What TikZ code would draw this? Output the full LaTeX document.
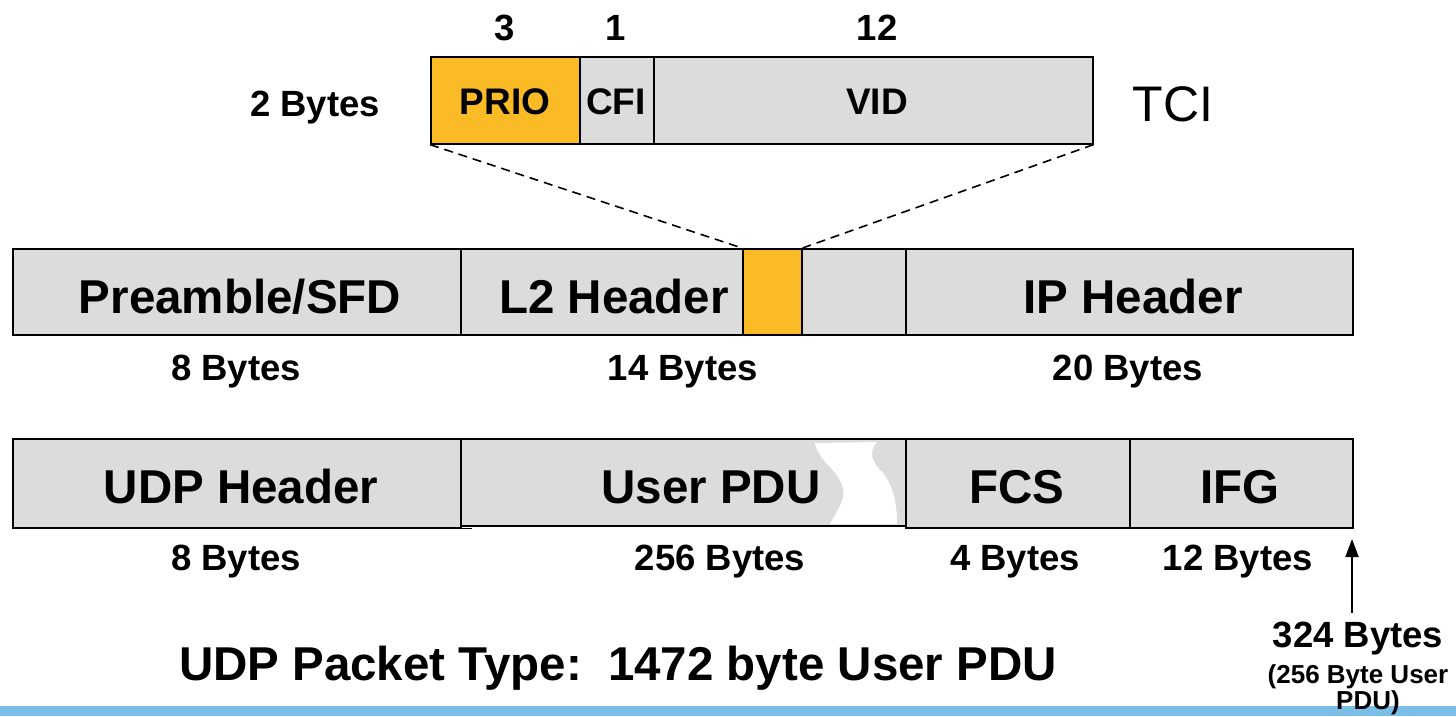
\documentclass[tikz,border=0pt]{standalone}
\usepackage{fontspec}
\setmainfont{Liberation Sans}
\usetikzlibrary{arrows.meta}
\definecolor{fieldgray}{RGB}{220,220,220}
\definecolor{prioorange}{RGB}{251,187,38}
\definecolor{barblue}{RGB}{123,191,232}

\begin{document}
\begin{tikzpicture}[x=1pt,y=-1pt,
  field/.style={draw=black, line width=1.6pt, fill=fieldgray, inner sep=0pt, anchor=north west},
  hi/.style={field, fill=prioorange},
  big/.style={font=\fontsize{47.5}{52}\selectfont\bfseries, text height=34pt, text depth=0pt, inner sep=0pt},
  mid/.style={font=\fontsize{36.5}{40}\selectfont\bfseries, text height=26pt, text depth=0pt, inner sep=0pt},
  tag/.style={font=\fontsize{37}{40}\selectfont\bfseries, text height=26.5pt, text depth=0pt, inner sep=0pt},
  sml/.style={font=\fontsize{26}{30}\selectfont\bfseries, text height=18.6pt, text depth=0pt, inner sep=0pt},
  dashline/.style={dashed, dash pattern=on 9pt off 6pt, line width=1.6pt},
  uparrow/.style={-{Triangle[width=13pt,length=18pt]}, line width=2pt}]

\useasboundingbox (0,0) rectangle (1456,716);

% bottom colour bar
\fill[barblue] (0,706) rectangle (1456,716);

% TCI field
\node[hi,    minimum width=149pt, minimum height=87pt] (prio) at (430,56) {};
\node[field, minimum width=74pt,  minimum height=87pt] (cfi)  at (579,56) {};
\node[field, minimum width=439pt, minimum height=87pt] (vid)  at (653,56) {};
\node[tag] (tprio) at (505,101) {PRIO};
\node[tag] (tcfi)  at (616,101) {CFI};
\node[tag] (tvid)  at (877,101) {VID};
\node[mid] (b3)  at (505,27) {3};
\node[mid] (b1)  at (616,27) {1};
\node[mid] (b12) at (877,27) {12};
\node[mid] (twob) at (315,103) {2 Bytes};
\node[font=\fontsize{50}{54}\selectfont, text height=36pt, text depth=0pt, inner sep=0pt] (tci) at (1173,103) {TCI};

% first frame row
\node[field, minimum width=448pt, minimum height=86pt] (pre)  at (12,248)  {};
\node[field, minimum width=282pt, minimum height=86pt] (l2)   at (460,248) {};
\node[hi,    minimum width=59pt,  minimum height=86pt] (vlan) at (742,248) {};
\node[field, minimum width=104pt, minimum height=86pt] (l2b)  at (801,248) {};
\node[field, minimum width=447pt, minimum height=86pt] (ip)   at (905,248) {};
\node[big] (tpre) at (240,296)  {Preamble/SFD};
\node[big] (tl2)  at (614,296)  {L2 Header};
\node[big] (tip)  at (1133,296) {IP Header};
\node[mid] (s8a)  at (236,367)  {8 Bytes};
\node[mid] (s14)  at (683,367)  {14 Bytes};
\node[mid] (s20)  at (1128,367) {20 Bytes};

% expansion of the tag field
\draw[dashline] (prio.south west) -- (vlan.north west);
\draw[dashline] (vid.south east) -- (vlan.north east);

% second frame row
\node[field, minimum width=448pt, minimum height=89pt] (udp) at (12,438)   {};
\node[field, minimum width=445pt, minimum height=87pt] (pdu) at (460,438)  {};
\node[field, minimum width=224pt, minimum height=89pt] (fcs) at (905,438)  {};
\node[field, minimum width=223pt, minimum height=89pt] (ifg) at (1129,438) {};
\draw[line width=1.6pt] (udp.south east) -- ++(10,0);
\fill[white] (815,443) -- (877,442)
  .. controls (868,452) and (872,462) .. (882,472)
  .. controls (892,484) and (897,500) .. (897,524) -- (830,524)
  .. controls (836,512) and (846,500) .. (843,488)
  .. controls (840,474) and (826,465) .. (820,455)
  .. controls (817,450) and (815,446) .. (815,443) -- cycle;
\node[big] (tudp) at (241,486)  {UDP Header};
\node[big] (tpdu) at (711,486)  {User PDU};
\node[big] (tfcs) at (1017,486) {FCS};
\node[big] (tifg) at (1240,486) {IFG};
\node[mid] (s8b)  at (236,557)  {8 Bytes};
\node[mid] (s256) at (720,557)  {256 Bytes};
\node[mid] (s4)   at (1015,557) {4 Bytes};
\node[mid] (s12)  at (1238,557) {12 Bytes};

% total size marker
\coordinate (tail) at (1352,613);
\coordinate (head) at (1352,539);
\draw[uparrow] (tail) -- (head);
\node[mid] (total) at (1358,634) {324 Bytes};
\node[sml] (totala) at (1358,674) {(256 Byte User};
\node[sml] (totalb) at (1368,700) {PDU)};

% caption
\node[big] (title) at (618,663) {UDP Packet Type:\hspace{0.55em}1472 byte User PDU};
\end{tikzpicture}
\end{document}
